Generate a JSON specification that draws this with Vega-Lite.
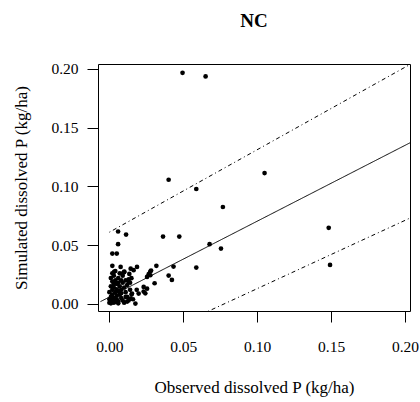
{
  "$schema": "https://vega.github.io/schema/vega-lite/v6.json",
  "width": 312,
  "height": 247,
  "autosize": "none",
  "padding": {"left": 98, "top": 64, "right": 10, "bottom": 91},
  "background": "white",
  "title": {"text": "NC", "font": "Liberation Serif", "fontSize": 19, "fontWeight": "bold", "color": "black", "offset": 31, "anchor": "middle"},
  "config": {
    "view": {"stroke": "black", "strokeWidth": 1},
    "axis": {"labelFont": "Liberation Serif", "titleFont": "Liberation Serif", "labelColor": "black", "titleColor": "black", "tickColor": "black", "grid": false, "domain": false, "titleFontWeight": "normal"}
  },
  "datasets": {
    "pts": [
      {"obs":0.000,"sim":0.001},{"obs":0.001,"sim":0.002},{"obs":0.002,"sim":0.003},{"obs":0.000,"sim":0.004},{"obs":0.003,"sim":0.001},
      {"obs":0.004,"sim":0.002},{"obs":0.001,"sim":0.006},{"obs":0.002,"sim":0.008},{"obs":0.003,"sim":0.005},{"obs":0.005,"sim":0.004},
      {"obs":0.006,"sim":0.002},{"obs":0.005,"sim":0.007},{"obs":0.004,"sim":0.010},{"obs":0.002,"sim":0.012},{"obs":0.001,"sim":0.015},
      {"obs":0.003,"sim":0.014},{"obs":0.006,"sim":0.011},{"obs":0.007,"sim":0.008},{"obs":0.008,"sim":0.005},{"obs":0.009,"sim":0.003},
      {"obs":0.010,"sim":0.001},{"obs":0.008,"sim":0.012},{"obs":0.007,"sim":0.015},{"obs":0.005,"sim":0.017},{"obs":0.004,"sim":0.020},
      {"obs":0.002,"sim":0.019},{"obs":0.006,"sim":0.022},{"obs":0.003,"sim":0.024},{"obs":0.009,"sim":0.018},{"obs":0.010,"sim":0.014},
      {"obs":0.011,"sim":0.010},{"obs":0.012,"sim":0.006},{"obs":0.013,"sim":0.003},{"obs":0.011,"sim":0.020},{"obs":0.009,"sim":0.024},
      {"obs":0.012,"sim":0.016},{"obs":0.014,"sim":0.012},{"obs":0.015,"sim":0.008},{"obs":0.013,"sim":0.021},{"obs":0.016,"sim":0.004},
      {"obs":0.007,"sim":0.026},{"obs":0.001,"sim":0.022},{"obs":0.000,"sim":0.010},{"obs":0.004,"sim":0.028},{"obs":0.010,"sim":0.027},
      {"obs":0.012,"sim":0.002},{"obs":0.014,"sim":0.018},{"obs":0.006,"sim":0.018},{"obs":0.008,"sim":0.020},{"obs":0.003,"sim":0.017},
      {"obs":0.002,"sim":0.0324},{"obs":0.0076,"sim":0.0315},{"obs":0.0032,"sim":0.0273},{"obs":0.0088,"sim":0.0258},{"obs":0.0144,"sim":0.030},
      {"obs":0.0187,"sim":0.0315},{"obs":0.0164,"sim":0.0287},{"obs":0.0255,"sim":0.023},{"obs":0.0277,"sim":0.0244},{"obs":0.0232,"sim":0.0145},
      {"obs":0.0198,"sim":0.0088},{"obs":0.0153,"sim":0.0088},{"obs":0.0142,"sim":0.0045},{"obs":0.0176,"sim":0.0003},{"obs":0.0255,"sim":0.013},
      {"obs":0.0101,"sim":0.0275},{"obs":0.0277,"sim":0.0275},{"obs":0.0318,"sim":0.0324},{"obs":0.0434,"sim":0.0318},{"obs":0.0588,"sim":0.0309},
      {"obs":0.0401,"sim":0.0241},{"obs":0.0423,"sim":0.0204},{"obs":0.0306,"sim":0.0176},{"obs":0.0232,"sim":0.0105},{"obs":0.0266,"sim":0.0253},
      {"obs":0.0243,"sim":0.009},{"obs":0.0059,"sim":0.0616},{"obs":0.0113,"sim":0.059},{"obs":0.0059,"sim":0.0508},{"obs":0.002,"sim":0.0428},
      {"obs":0.005,"sim":0.0428},{"obs":0.0363,"sim":0.0573},{"obs":0.0473,"sim":0.0573},{"obs":0.0495,"sim":0.1965},{"obs":0.0651,"sim":0.1934},
      {"obs":0.0401,"sim":0.1056},{"obs":0.105,"sim":0.1113},{"obs":0.0588,"sim":0.0977},{"obs":0.0768,"sim":0.0824},{"obs":0.0678,"sim":0.0508},
      {"obs":0.0755,"sim":0.0471},{"obs":0.1484,"sim":0.0647},{"obs":0.1493,"sim":0.0332},{"obs":0.013,"sim":0.019},{"obs":0.0149,"sim":0.0219},
      {"obs":0.0282,"sim":0.0284},{"obs":0.001,"sim":0.0005},{"obs":0.005,"sim":0.0125},{"obs":0.008,"sim":0.009},{"obs":0.011,"sim":0.006},
      {"obs":0.002,"sim":0.026},{"obs":0.006,"sim":0.0005},{"obs":0.0135,"sim":0.0255},{"obs":0.0185,"sim":0.012}
    ],
    "lines": [
      {"obs":-0.006,"sim":0.002,"line":"fit"},{"obs":0.2034,"sim":0.137,"line":"fit"},
      {"obs":0.0,"sim":0.061,"line":"upper"},{"obs":0.2034,"sim":0.2036,"line":"upper"},
      {"obs":0.06,"sim":-0.0102,"line":"lower"},{"obs":0.2034,"sim":0.073,"line":"lower"}
    ]
  },
  "layer": [
    {
      "data": {"name": "lines"},
      "mark": {"type": "line", "clip": true, "color": "black", "strokeWidth": 1},
      "encoding": {
        "x": {"field": "obs", "type": "quantitative"},
        "y": {"field": "sim", "type": "quantitative"},
        "detail": {"field": "line"},
        "strokeDash": {"field": "line", "type": "nominal", "scale": {"domain": ["fit", "upper", "lower"], "range": [[1, 0], [1, 3, 4, 3], [1, 3, 4, 3]]}, "legend": null}
      }
    },
    {
      "data": {"name": "pts"},
      "mark": {"type": "circle", "color": "black", "opacity": 1, "size": 22, "clip": true},
      "encoding": {
        "x": {"field": "obs", "type": "quantitative", "scale": {"domain": [-0.0077, 0.2034], "nice": false, "zero": false},
              "axis": {"values": [0, 0.05, 0.1, 0.15, 0.2], "format": ".2f", "tickSize": 11, "labelPadding": 17, "labelFontSize": 15.5, "title": "Observed dissolved P (kg/ha)", "titleFontSize": 17, "titlePadding": 25}},
        "y": {"field": "sim", "type": "quantitative", "scale": {"domain": [-0.006, 0.204], "nice": false, "zero": false},
              "axis": {"values": [0, 0.05, 0.1, 0.15, 0.2], "format": ".2f", "tickSize": 11, "labelPadding": 9, "labelFontSize": 15.5, "title": "Simulated dissolved P (kg/ha)", "titleFontSize": 17, "titlePadding": 20}}
      }
    }
  ]
}
